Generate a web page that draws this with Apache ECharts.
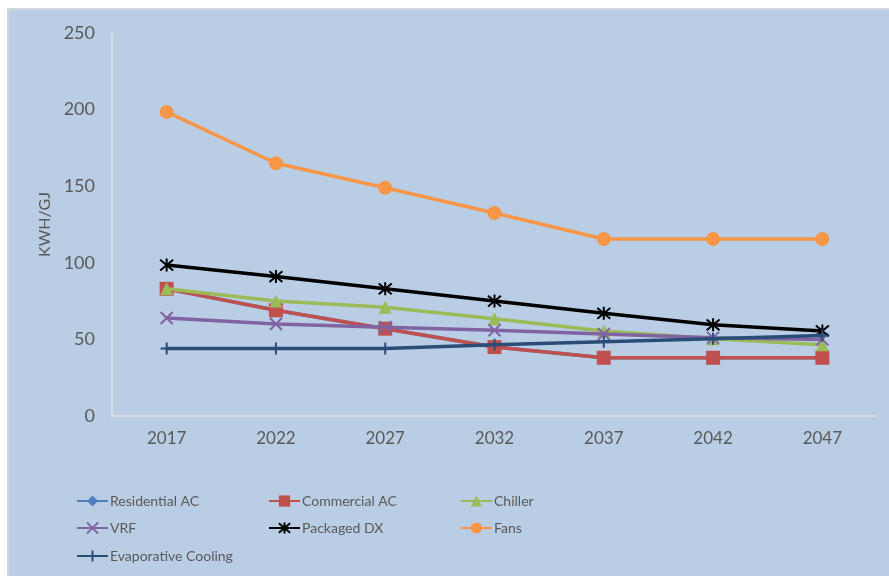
<!DOCTYPE html>
<html>
<head>
<meta charset="utf-8">
<script src="https://cdn.jsdelivr.net/npm/echarts@6/dist/echarts.min.js"></script>
<style>
html,body{margin:0;padding:0;background:#ffffff;overflow:hidden;}
#bg{position:absolute;left:7px;top:8px;width:882px;height:568px;background:#b9cde5;border-top:2px solid #d4d8de;border-left:2px solid #d4d8de;}
#c{position:absolute;left:0;top:0;width:889px;height:576px;}
</style>
</head>
<body>
<div id="bg"></div>
<div id="c"></div>
<script>
var categories = ['2017','2022','2027','2032','2037','2042','2047'];
var seriesNames = ['Residential AC','Commercial AC','Chiller','VRF','Packaged DX','Fans','Evaporative Cooling'];
var residentialAC = [83, 69, 57, 45, 38, 38, 38];
var commercialAC = [83, 69, 57, 45, 38, 38, 38];
var chiller = [83, 75, 71, 63.5, 55.5, 50.5, 46.5];
var vrf = [64, 60, 58, 56, 53.5, 51, 50];
var packagedDX = [98.5, 91, 83, 75, 67, 59.5, 55.5];
var fans = [198.5, 165, 149, 132.5, 115.5, 115.5, 115.5];
var evapCooling = [44, 44, 44, 46.5, 48.5, 50.5, 52.5];
var yTicks = [0, 50, 100, 150, 200, 250];

var values = [residentialAC, commercialAC, chiller, vrf, packagedDX, fans, evapCooling];
var colors = ['#4f81bd','#c0504d','#9bbb59','#8064a2','#000000','#f79646','#2a4d78'];
var symbols = ['diamond','rect','triangle',
  'path://M0,0L10,10M10,0L0,10',
  'path://M0,0L10,10M10,0L0,10M5,-1L5,11',
  'circle',
  'path://M0,5L10,5M5,0L5,10'];
var sizes = [12, 14, 13, 12, 13, 14, 12];

var legendPos = [[76,494],[268,494],[460,494],[76,521],[268,521],[460,521],[76,549]];

var FONT = 'Lato, "DejaVu Sans", sans-serif';

var series = seriesNames.map(function(n, i){
  var isStroke = (i === 3 || i === 4 || i === 6);
  return {
    name: n, type: 'line', data: values[i],
    symbol: symbols[i], symbolSize: sizes[i],
    showAllSymbol: true,
    lineStyle: {color: colors[i], width: 3.5},
    itemStyle: {color: colors[i], borderColor: colors[i], borderWidth: isStroke ? 2 : 0},
    z: 2 + i
  };
});

var legends = seriesNames.map(function(n, i){
  return {
    id: 'lg' + i,
    data: [n], left: legendPos[i][0], top: legendPos[i][1],
    padding: 0,
    itemWidth: 31, itemHeight: 14, itemGap: 0,
    textStyle: {color: '#595959', fontSize: 14, fontFamily: FONT, padding: [0,0,0,-3]},
    selectedMode: false
  };
});

var chart = echarts.init(document.getElementById('c'));
chart.setOption({
  backgroundColor: 'transparent',
  animation: false,
  grid: {left: 112, right: 12, top: 33, bottom: 160},
  legend: legends,
  xAxis: {
    type: 'category', data: categories, boundaryGap: true,
    axisLine: {lineStyle: {color: '#e4e0e0', width: 1.5}},
    axisTick: {show: false},
    axisLabel: {color: '#595959', fontSize: 17, fontFamily: FONT, margin: 14}
  },
  yAxis: {
    type: 'value', min: yTicks[0], max: yTicks[yTicks.length-1], interval: 50,
    name: 'KWH/GJ', nameLocation: 'middle', nameGap: 58,
    nameTextStyle: {color: '#595959', fontSize: 16, fontFamily: FONT},
    axisLine: {show: true, lineStyle: {color: '#e4e0e0', width: 1.5}},
    axisTick: {show: false},
    splitLine: {show: false},
    axisLabel: {color: '#595959', fontSize: 18, fontFamily: FONT, margin: 17}
  },
  series: series
});
</script>
</body>
</html>
